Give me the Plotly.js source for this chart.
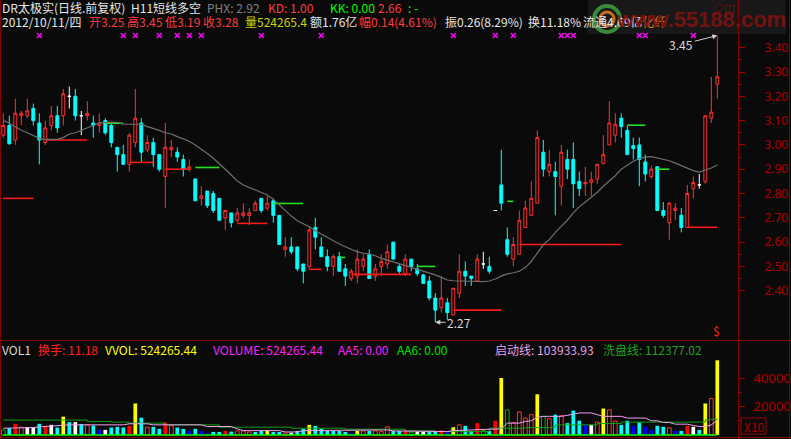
<!DOCTYPE html>
<html><head><meta charset="utf-8">
<script src="https://cdn.plot.ly/plotly-3.0.1.min.js"></script>
<style>html,body{margin:0;padding:0;background:#0a0a0a;}#chart{width:791px;height:439px;}</style>
</head><body><div id="chart"></div>
<script>
// ---------- data ----------
const openP = [3.04,3.08,3.02,3.12,3.12,3.15,3.09,3.01,3.08,3.12,
3.12,3.20,3.20,3.12,3.12,3.09,3.08,3.10,3.08,2.99,
2.96,2.92,3.01,3.09,2.98,3.01,2.96,2.87,2.98,2.97,
2.94,2.90,2.86,2.78,2.81,2.80,2.78,2.70,2.72,2.69,
2.71,2.71,2.73,2.78,2.74,2.77,2.71,2.57,2.58,2.58,
2.51,2.50,2.66,2.58,2.54,2.50,2.54,2.49,2.45,2.46,
2.50,2.55,2.46,2.50,2.51,2.60,2.50,2.47,2.53,2.49,
2.465,2.44,2.37,2.33,2.35,2.30,2.39,2.48,2.46,2.44,
2.51,2.50,2.73,2.835,2.61,2.53,2.55,2.66,2.71,2.76,
2.97,2.89,2.89,2.83,2.94,2.94,2.85,2.84,2.846,2.86,
2.924,3.00,3.04,3.11,3.06,2.997,3.00,2.93,2.87,2.91,
2.73,2.68,2.73,2.71,2.66,2.82,2.835,2.85,3.11,3.25];
const highP = [3.13,3.12,3.19,3.14,3.19,3.17,3.13,3.10,3.16,3.16,
3.23,3.24,3.23,3.14,3.18,3.12,3.13,3.11,3.09,2.99,
3.00,3.05,3.23,3.11,3.04,3.03,2.96,3.09,3.02,2.99,
2.96,2.94,2.86,2.83,2.81,2.81,2.78,2.73,2.72,2.74,
2.76,2.74,2.77,2.78,2.79,2.78,2.71,2.62,2.62,2.58,
2.51,2.66,2.70,2.62,2.57,2.55,2.56,2.51,2.49,2.57,
2.55,2.57,2.51,2.55,2.59,2.60,2.51,2.55,2.53,2.51,
2.47,2.46,2.39,2.46,2.37,2.41,2.55,2.52,2.46,2.55,
2.56,2.54,2.73,2.98,2.66,2.62,2.73,2.77,2.85,3.06,
3.02,2.98,2.93,3.00,2.98,3.01,2.89,2.91,2.89,2.92,
3.04,3.18,3.13,3.13,3.08,3.03,3.03,2.96,2.915,2.91,
2.765,2.765,2.76,2.74,2.835,2.87,2.88,3.12,3.28,3.45];
const lowP = [3.03,3.00,3.00,3.08,3.11,3.08,2.92,3.00,3.06,3.05,
3.08,3.15,3.10,3.04,3.10,3.03,3.05,3.04,2.99,2.89,
2.92,2.89,2.99,2.93,2.97,2.91,2.89,2.74,2.95,2.93,
2.87,2.89,2.77,2.75,2.74,2.72,2.69,2.65,2.66,2.68,
2.70,2.67,2.73,2.72,2.73,2.68,2.59,2.54,2.55,2.48,
2.43,2.49,2.57,2.54,2.48,2.46,2.48,2.42,2.44,2.43,
2.48,2.45,2.44,2.46,2.49,2.53,2.47,2.46,2.48,2.46,
2.43,2.36,2.27,2.31,2.28,2.30,2.37,2.42,2.42,2.44,
2.49,2.47,2.73,2.73,2.54,2.50,2.55,2.66,2.71,2.76,
2.87,2.87,2.71,2.75,2.86,2.74,2.79,2.79,2.79,2.84,
2.92,3.00,3.01,3.03,2.96,2.94,2.83,2.85,2.86,2.73,
2.70,2.61,2.69,2.64,2.66,2.78,2.82,2.84,3.09,3.19];
const closeP = [3.08,3.005,3.13,3.13,3.14,3.10,3.02,3.07,3.12,3.07,
3.21,3.20,3.12,3.12,3.13,3.08,3.09,3.05,3.01,2.96,
2.92,3.04,3.11,2.97,3.01,2.96,2.90,2.99,2.99,2.95,
2.90,2.91,2.77,2.79,2.75,2.73,2.69,2.73,2.68,2.72,
2.72,2.72,2.76,2.73,2.76,2.71,2.59,2.58,2.56,2.49,
2.48,2.65,2.62,2.54,2.50,2.54,2.48,2.46,2.48,2.53,
2.53,2.45,2.49,2.52,2.56,2.53,2.48,2.53,2.50,2.47,
2.43,2.37,2.32,2.37,2.31,2.41,2.48,2.46,2.45,2.53,
2.51,2.48,2.73,2.76,2.55,2.59,2.69,2.74,2.78,3.03,
2.90,2.92,2.87,2.97,2.90,2.84,2.82,2.845,2.856,2.92,
2.96,3.09,3.085,3.075,2.96,2.985,2.94,2.88,2.90,2.73,
2.71,2.76,2.74,2.66,2.80,2.845,2.835,3.12,3.135,3.28];
const dojiIdx = [11,13,80,82,116];
const maLine = [3.10,3.09,3.075,3.06,3.05,3.04,3.027,3.023,3.023,3.023,
3.03,3.045,3.05,3.06,3.07,3.08,3.09,3.093,3.093,3.093,
3.085,3.085,3.085,3.085,3.075,3.068,3.06,3.05,3.045,3.034,
3.024,3.015,3.00,2.983,2.965,2.945,2.924,2.90,2.876,2.851,
2.835,2.825,2.814,2.803,2.794,2.776,2.753,2.728,2.707,2.688,
2.677,2.663,2.647,2.633,2.62,2.604,2.592,2.581,2.571,2.56,
2.554,2.551,2.544,2.533,2.526,2.519,2.513,2.503,2.496,2.488,
2.481,2.474,2.465,2.455,2.444,2.441,2.44,2.437,2.437,2.437,
2.437,2.44,2.448,2.46,2.469,2.474,2.48,2.495,2.52,2.555,
2.59,2.61,2.64,2.665,2.69,2.72,2.745,2.765,2.785,2.805,
2.83,2.852,2.873,2.90,2.918,2.933,2.944,2.95,2.952,2.946,
2.94,2.935,2.925,2.914,2.902,2.894,2.888,2.895,2.905,2.917];
const signalIdx = [6,20,22,26,29,31,33,43,53,75,82,85,93,94,95,106,107,115];
const segStart = [0,7,21,27,39,51,58,75,86,114, 17,32,45,56,69,84,104,109];
const segEnd   = [5,14,25,31,44,53,68,83,103,119, 20,36,50,57,72,85,107,111];
const segLevel = [2.78,3.02,2.928,2.90,2.677,2.488,2.467,2.32,2.59,2.661, 3.089,2.907,2.759,2.537,2.50,2.768,3.081,2.90];
const segKind  = ['R','R','R','R','R','R','R','R','R','R','G','G','G','G','G','G','G','G'];
const volume = [3570,4760,7850,5470,5470,5470,7850,6430,7140,5240,
12850,9040,9040,7620,7140,6660,3570,3570,5240,5710,
5240,6430,22130,12140,5470,5710,4280,8810,6660,5240,
4280,2860,4280,2860,1430,2140,2140,2860,2380,2860,
2860,2140,2140,2860,3570,2140,2140,1430,1670,2860,
4280,7140,6430,4280,2860,2860,2860,2140,1430,2860,
2860,2860,2860,2380,5710,2860,2860,3090,1900,2380,
2380,2380,2380,3330,1900,5470,7140,6430,2860,8330,
3090,2860,10000,40000,17610,8810,16180,11900,14280,28560,
13090,11420,14280,13570,8330,17140,10000,7140,7140,9040,
18560,17610,9760,7140,10000,6430,8810,5710,3570,6430,
5710,5000,2860,2860,6430,5710,3570,22130,25700,52427];
const volKind = ("GCRHWWCRWC"+"YCWCHCBWCC"+"CRYCHCCRHC"+"CBCBBCCRCH"+"HHCCYCCHWC"+
"CYCCCCCCBY"+"HCHHHCCRGW"+"WCCRBYHCCR"+"GCRYGHHHHY"+"GHCHCCCBWH"+"YHHCCBCBBC"+"CHBCRWCYHY").split('');
const startLine = [4760,4800,4900,5000,5100,5240,5700,6000,6400,6660,
7140,7140,7140,7140,7140,7140,7140,7140,7140,7140,
7140,7850,7850,7850,7850,7140,7140,7140,7140,7140,
7140,7140,7140,7140,5950,5950,5950,5950,5950,4280,
3090,3090,3090,3090,3090,3090,3090,2140,2140,2140,
3090,3090,3090,3090,3090,3090,3570,3570,3570,3570,
3570,3570,3570,3570,3570,2860,2860,2860,2860,2860,
2860,2860,2380,2380,2380,3090,3090,3300,3500,3800,
4000,4280,4280,4280,8330,8330,8330,9500,10000,12380,
13090,13090,13090,13090,13800,14760,15470,15470,15470,14280,
13090,13090,13090,13090,11900,11900,11900,11900,10000,10000,
8800,8800,7600,7600,7600,6660,5950,5950,7140,10393];
const washLine = [10470,10470,10470,10470,10470,10470,10470,10470,10470,10470,
10470,10470,10470,10470,9520,9520,9520,9520,9040,9040,
9040,8330,8330,8330,8330,8330,8330,7140,7140,7140,
7140,7140,7140,7140,7140,7140,5470,5470,5470,5470,
5470,5470,5470,5470,5470,5470,5470,5470,4760,4760,
4760,4760,4760,4760,4760,4760,4760,4050,4050,4050,
4050,4050,4050,4050,4050,4050,4050,2860,2860,2860,
2860,2860,2380,2380,2380,2380,2380,2380,2380,2380,
2380,4760,4760,4760,4760,4760,4760,5240,5240,5240,
5240,5240,7140,7140,7140,7140,7140,7140,7140,8090,
8090,8090,8090,9040,9040,9040,9040,9040,9040,9040,
9040,9040,9040,9040,9040,9040,9040,10700,11000,11238];
const aa6 = volume.map(() => 0);
const priceTicks = [2.40,2.50,2.60,2.70,2.80,2.90,3.00,3.10,3.20,3.30,3.40];
const volTicks = [20000,40000];

// ---------- build ----------
const N = closeP.length;
const idx = [...Array(N).keys()];
const PW = 738, PH = 439;
const px = x => x / PW, py = y => 1 - y / PH;
const FONT = 'Noto Sans CJK SC, Noto Sans, sans-serif';
const RED = '#ff3232', CYAN = '#00ffff';

function subset(list) {
  return {x: list, open: list.map(i=>openP[i]), high: list.map(i=>highP[i]), low: list.map(i=>lowP[i]), close: list.map(i=>closeP[i])};
}
const isDoji = i => dojiIdx.includes(i);
const upIdx = idx.filter(i => !isDoji(i) && closeP[i] > openP[i]);
const dnIdx = idx.filter(i => !isDoji(i) && closeP[i] <= openP[i]);

const traces = [];
function segTrace(kind, color) {
  const xs = [], ys = [];
  segKind.forEach((k, j) => { if (k === kind) { xs.push(segStart[j], segEnd[j], null); ys.push(segLevel[j], segLevel[j], null); } });
  return {type:'scatter', mode:'lines', x: xs, y: ys, line:{color, width:1.6}, hoverinfo:'skip', xaxis:'x', yaxis:'y'};
}
traces.push(segTrace('R', '#ff1a1a'));
traces.push(segTrace('G', '#22e022'));
traces.push({type:'scatter', mode:'lines', x: idx, y: maLine, line:{color:'#6e6e6e', width:1.2}, hoverinfo:'skip'});
const cs = (list, inc, dec) => Object.assign({type:'candlestick', xaxis:'x', yaxis:'y', whiskerwidth:0,
  increasing:inc, decreasing:dec, hoverinfo:'skip'}, subset(list));
traces.push(cs(upIdx, {line:{color:RED, width:1}, fillcolor:'#0a0a0a'}, {line:{color:RED, width:1}, fillcolor:'#0a0a0a'}));
traces.push(cs(dnIdx, {line:{color:CYAN, width:1}, fillcolor:CYAN}, {line:{color:CYAN, width:1}, fillcolor:CYAN}));
traces.push(cs(dojiIdx, {line:{color:'#ffffff', width:1}, fillcolor:'#ffffff'}, {line:{color:'#ffffff', width:1}, fillcolor:'#ffffff'}));
// signal crosses along the top edge
const topLevel = 3.45;
traces.push({type:'scatter', mode:'markers', x: signalIdx, y: signalIdx.map(() => topLevel),
  marker:{symbol:'x-thin-open', size:5, color:'#ff00ff', line:{color:'#ff00ff', width:1.5}}, hoverinfo:'skip'});

// volume
const volStyles = {
  Y:{color:'#ffff00'}, C:{color:'#00ffff'}, W:{color:'#ffffff'}, R:{color:'#ff0000'}, B:{color:'#0000ff'},
  H:{color:'rgba(0,0,0,0)', line:{color:'#ff3232', width:1}}, G:{color:'rgba(0,0,0,0)', line:{color:'#00b000', width:1}}
};
Object.keys(volStyles).forEach(k => {
  const list = idx.filter(i => volKind[i] === k);
  const st = volStyles[k];
  traces.push({type:'bar', x: list, y: list.map(i => volume[i]), xaxis:'x2', yaxis:'y2', width:0.62,
    marker:{color: st.color, line: st.line || {width:0}}, hoverinfo:'skip'});
});
traces.push({type:'scatter', mode:'lines', x: idx, y: washLine, xaxis:'x2', yaxis:'y2', line:{color:'#10a010', width:1, shape:'hv'}, hoverinfo:'skip'});
traces.push({type:'scatter', mode:'lines', x: idx, y: startLine, xaxis:'x2', yaxis:'y2', line:{color:'#f0a0f0', width:1}, hoverinfo:'skip'});
traces.push({type:'scatter', mode:'lines', x: idx, y: aa6, xaxis:'x2', yaxis:'y2', line:{color:'#00ff00', width:1.5}, hoverinfo:'skip'});

// ---------- annotations ----------
const ann = (text, x, y, color, size, extra) => Object.assign({xref:'paper', yref:'paper', x: px(x), y: py(y),
  xanchor:'left', yanchor:'middle', text, showarrow:false, borderpad:0, font:{family:FONT, size: size || 12, color}}, extra || {});
const WHITE = '#e6e6e6', HRED = '#ff3c3c';
const annotations = [
  ann('DR太极实(日线.前复权)', 1, 8, WHITE), ann('H11短线多空', 130, 8, WHITE),
  ann('PHX: 2.92', 206, 8, '#808080'), ann('KD: 1.00', 267, 8, HRED), ann('KK: 0.00', 329, 8, '#00ff00'),
  ann(': 2.66', 371, 8, HRED), ann(': -', 407, 8, '#00ff00'),
  ann('2012/10/11/四', 1, 22, WHITE), ann('开3.25', 88, 22, HRED), ann('高3.45', 126, 22, HRED),
  ann('低3.19', 164, 22, HRED), ann('收3.28', 202, 22, HRED), ann('量524265.4', 244, 22, '#d0d000'),
  ann('额1.76亿', 309, 22, WHITE), ann('幅0.14(4.61%)', 358, 22, HRED), ann('振0.26(8.29%)', 444, 22, WHITE),
  ann('换11.18%', 527, 22, WHITE), ann('流通4.69亿', 582, 22, WHITE), ann('化纤', 641, 22, '#e08020'),
  ann('www.55188.com', 615, 20, 'rgba(130,18,18,0.9)', 22, {font:{family:'Liberation Sans, Arial', size:22, color:'rgba(130,18,18,0.9)', weight:'bold'}}),
  ann('◇◫', 712, 7, '#a00000', 11),
  ann('VOL1', 1, 349, '#d8d8d8'), ann('换手: 11.18', 37, 349, '#ff2020'), ann('VVOL: 524265.44', 104, 349, '#ffff00'),
  ann('VOLUME: 524265.44', 212, 349, '#ff20ff'), ann('AA5: 0.00', 337, 349, '#ff20ff'), ann('AA6: 0.00', 396, 349, '#00e000'),
  ann('启动线: 103933.93', 494, 349, '#e8a0e8'), ann('洗盘线: 112377.02', 602, 349, '#20a020'),
  ann('X10', 743, 426, '#b00000', 12),
  ann('$', 712, 330, '#ff2020', 12),
  {x: 119, y: highP[119], xref:'x', yref:'y', text:'3.45', showarrow:true, ax:-36, ay:9, arrowhead:2, arrowsize:1, arrowwidth:1,
   arrowcolor:'#d0d0d0', standoff:0, font:{family:FONT, size:12, color:'#d8d8d8'}},
  {x: 72, y: 2.27, xref:'x', yref:'y', text:'2.27', showarrow:true, ax:24, ay:0, arrowhead:2, arrowsize:1, arrowwidth:1,
   arrowcolor:'#d0d0d0', standoff:0, font:{family:FONT, size:12, color:'#d8d8d8'}}
];

const BORDER = '#800000';
const ln = (x0,y0,x1,y1,c) => ({type:'line', xref:'paper', yref:'paper', x0:px(x0), y0:py(y0), x1:px(x1), y1:py(y1), line:{color:c||BORDER, width:1}});
const shapes = [
  {type:'rect', xref:'paper', yref:'paper', x0:px(588), x1:px(786), y0:py(0), y1:py(34), fillcolor:'#181818', line:{width:0}, layer:'below'},
  {type:'circle', xref:'paper', yref:'paper', x0:px(594), x1:px(620), y0:py(6), y1:py(32), fillcolor:'rgba(0,0,0,0)', line:{color:'#3a8a3a', width:4}},
  {type:'circle', xref:'paper', yref:'paper', x0:px(600), x1:px(614), y0:py(12), y1:py(26), fillcolor:'rgba(0,0,0,0)', line:{color:'#c07020', width:3}},
  ln(0.5,0,0.5,439), ln(738.5,0,738.5,439), ln(789.5,0,789.5,439), ln(0,340.5,791,340.5), ln(0,437.5,791,437.5),
  {type:'rect', xref:'paper', yref:'paper', x0:px(741), x1:px(766), y0:py(418), y1:py(434), fillcolor:'rgba(0,0,0,0)', line:{color:'#a00000', width:1}}
];

const axisY = {side:'right', showgrid:false, zeroline:false, showline:true, linecolor:BORDER, ticks:'outside',
  ticklen:6, tickcolor:'#a00000', fixedrange:true};
const layout = {
  width:791, height:439, margin:{l:0, r:53, t:0, b:0}, paper_bgcolor:'#0a0a0a', plot_bgcolor:'#0a0a0a',
  showlegend:false, hovermode:false, dragmode:false, barmode:'overlay', boxgap:0.3,
  xaxis:{domain:[0,1], range:[-0.55,122.45], visible:false, rangeslider:{visible:false}, fixedrange:true},
  xaxis2:{domain:[0,1], matches:'x', anchor:'y2', visible:false, fixedrange:true},
  yaxis: Object.assign({}, axisY, {domain:[py(340),1], range:[3.40-(340-47.7)/243, 3.40+47.7/243],
    tickvals: priceTicks, tickformat:'.2f', ticklabelstandoff:17,
    tickfont:{family:'Noto Sans, sans-serif', size:12, color:'#b00000'},
    minor:{tickvals: priceTicks.map(v => v + 0.05).slice(0, -1), ticks:'outside', ticklen:3, tickcolor:'#a00000'}}),
  yaxis2: Object.assign({}, axisY, {domain:[0,py(340)], anchor:'x2', range:[-4*701.75, 95*701.75],
    tickvals: volTicks, tickformat:'d', ticklabelstandoff:6,
    tickfont:{family:'Noto Sans, sans-serif', size:13, color:'#b00000'},
    minor:{tickvals:[10000,30000], ticks:'outside', ticklen:3, tickcolor:'#a00000'}}),
  annotations, shapes
};
Plotly.newPlot('chart', traces, layout, {staticPlot:true, displayModeBar:false});
</script></body></html>
